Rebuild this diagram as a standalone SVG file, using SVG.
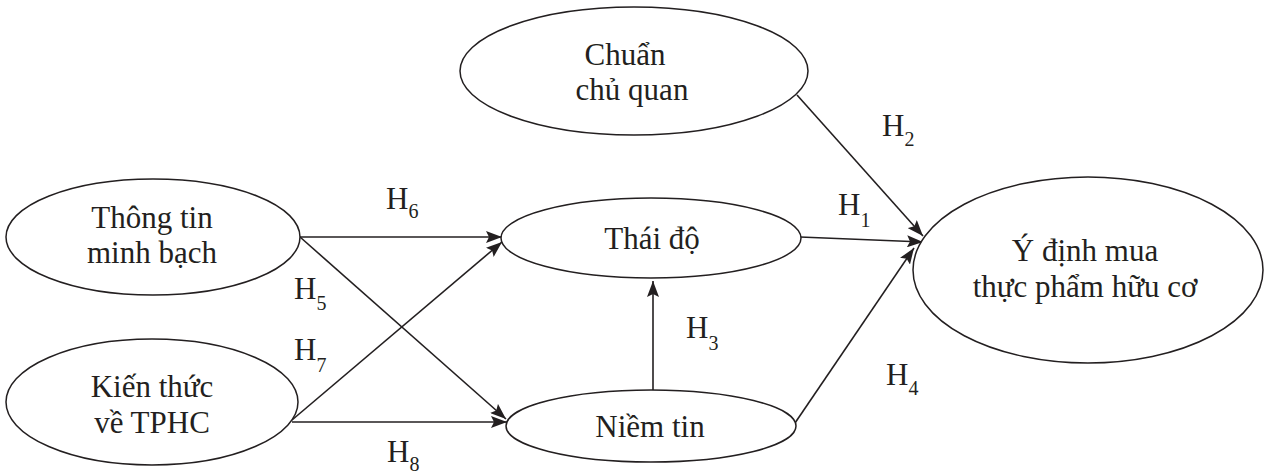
<svg xmlns="http://www.w3.org/2000/svg" width="1269" height="475" viewBox="0 0 1269 475">
  <style>
    .node { fill: #ffffff; stroke: #231f20; stroke-width: 1.5; }
    .edge { fill: none; stroke: #231f20; stroke-width: 1.6; marker-end: url(#arrow); }
    .label { font-family: "Liberation Serif", "Times New Roman", serif; font-size: 31px; fill: #231f20; text-anchor: middle; }
    .hyp { font-family: "Liberation Serif", "Times New Roman", serif; font-size: 31px; fill: #231f20; }
    .sub { font-size: 20px; }
  </style>
  <defs>
    <marker id="arrow" viewBox="0 0 16 12" refX="16" refY="6" markerWidth="16" markerHeight="12" markerUnits="userSpaceOnUse" orient="auto">
      <path d="M0,0 L16,6 L0,12 L3,6 z" fill="#231f20"/>
    </marker>
  </defs>

  <!-- connectors -->
  <g id="connectors">
    <line class="edge" x1="300" y1="237" x2="502" y2="237"/>
    <line class="edge" x1="300" y1="237" x2="506" y2="419"/>
    <line class="edge" x1="292" y1="420" x2="502" y2="242"/>
    <line class="edge" x1="292" y1="422" x2="507" y2="422"/>
    <line class="edge" x1="653" y1="390" x2="653" y2="281"/>
    <line class="edge" x1="800" y1="237" x2="923" y2="242"/>
    <line class="edge" x1="797" y1="95" x2="923" y2="236"/>
    <line class="edge" x1="795" y1="423" x2="914" y2="248"/>
  </g>

  <!-- hypothesis labels -->
  <g id="hypotheses">
    <text class="hyp" x="386" y="209">H<tspan class="sub" dy="9">6</tspan></text>
    <text class="hyp" x="294" y="299">H<tspan class="sub" dy="11">5</tspan></text>
    <text class="hyp" x="294" y="360">H<tspan class="sub" dy="12">7</tspan></text>
    <text class="hyp" x="387" y="462">H<tspan class="sub" dy="9">8</tspan></text>
    <text class="hyp" x="686" y="338">H<tspan class="sub" dy="12">3</tspan></text>
    <text class="hyp" x="838" y="215">H<tspan class="sub" dy="12">1</tspan></text>
    <text class="hyp" x="882" y="136">H<tspan class="sub" dy="10">2</tspan></text>
    <text class="hyp" x="886" y="385">H<tspan class="sub" dy="10">4</tspan></text>
  </g>

  <g id="chuan-chu-quan">
    <ellipse class="node" cx="634" cy="71" rx="174" ry="64"/>
    <text class="label" x="625" y="65">Chuẩn</text>
    <text class="label" x="632" y="100">chủ quan</text>
  </g>

  <g id="thong-tin-minh-bach">
    <ellipse class="node" cx="153" cy="237" rx="147" ry="58"/>
    <text class="label" x="152" y="228">Thông tin</text>
    <text class="label" x="152" y="263">minh bạch</text>
  </g>

  <g id="kien-thuc">
    <ellipse class="node" cx="152" cy="402" rx="146" ry="63"/>
    <text class="label" x="152" y="397">Kiến thức</text>
    <text class="label" x="152" y="433">về TPHC</text>
  </g>

  <g id="thai-do">
    <ellipse class="node" cx="651" cy="238" rx="150" ry="40"/>
    <text class="label" x="652" y="249">Thái độ</text>
  </g>

  <g id="niem-tin">
    <ellipse class="node" cx="651" cy="426" rx="145" ry="36"/>
    <text class="label" x="650" y="437">Niềm tin</text>
  </g>

  <g id="y-dinh-mua">
    <ellipse class="node" cx="1088" cy="270" rx="175" ry="93"/>
    <text class="label" x="1085" y="261">Ý định mua</text>
    <text class="label" x="1085" y="297">thực phẩm hữu cơ</text>
  </g>
</svg>
